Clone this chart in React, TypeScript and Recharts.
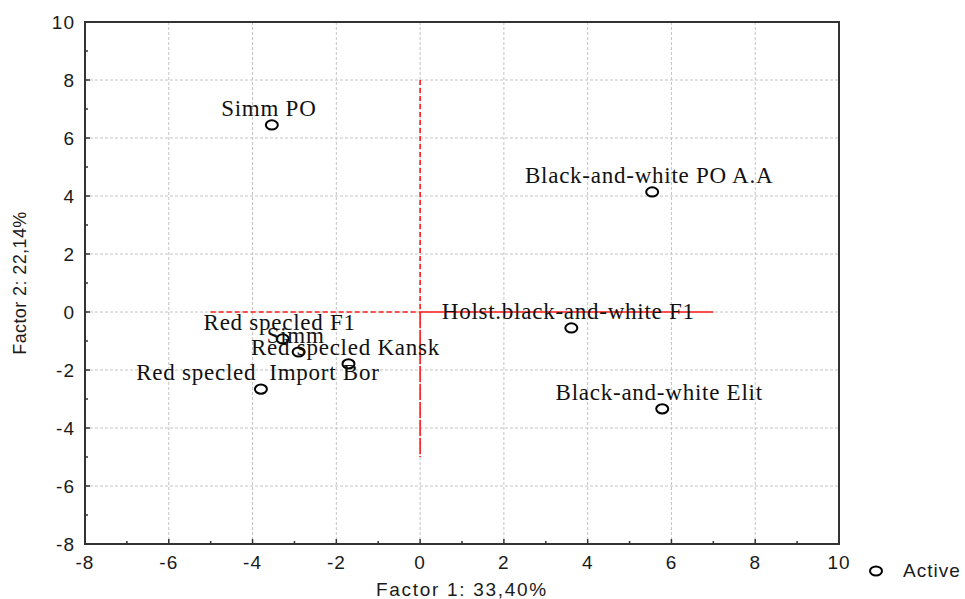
import {
  ScatterChart,
  Scatter,
  XAxis,
  YAxis,
  CartesianGrid,
  ReferenceLine,
  ReferenceArea,
  Legend,
  Label,
} from "recharts";

// Factor loadings
const NAMES = [
  "Simm PO",
  "Black-and-white PO A.A",
  "Holst.black-and-white F1",
  "Black-and-white Elit",
  "Red specled F1",
  "Simm",
  "Red specled Kansk",
  "Red specled  Import Bor",
];
const FACTOR1 = [-3.54, 5.54, 3.61, 5.78, -3.28, -2.9, -1.71, -3.8];
const FACTOR2 = [6.45, 4.14, -0.55, -3.34, -0.93, -1.38, -1.79, -2.66];

const AXIS_TICKS = [-8, -7, -6, -5, -4, -3, -2, -1, 0, 1, 2, 3, 4, 5, 6, 7, 8, 9, 10];
const GRID_VALUES = [-6, -4, -2, 0, 2, 4, 6, 8];

// red origin cross
const V_UPPER = [{ x: 0, y: 8 }, { x: 0, y: 0 }];
const V_LOWER = [{ x: 0, y: 0 }, { x: 0, y: -5 }];
const H_LEFT = [{ x: -5, y: 0 }, { x: 0, y: 0 }];
const H_RIGHT = [{ x: 0, y: 0 }, { x: 7, y: 0 }];

const points = NAMES.map((name, i) => ({ name, x: FACTOR1[i], y: FACTOR2[i] }));

const SANS = "'Liberation Sans', Arial, sans-serif";
const SERIF = "'Liberation Serif', 'Times New Roman', serif";
const TICK_MARGIN_X = 12;
const TICK_MARGIN_Y = 10;

const XTick = (props: any) => {
  const { x, y, payload } = props;
  const v = payload.value;
  const major = v % 2 === 0;
  const base = y - TICK_MARGIN_X;
  return (
    <g>
      <line x1={x} x2={x} y1={base} y2={base - (major ? 5 : 3)} stroke="#333" strokeWidth={1.5} />
      {major && (
        <text
          x={x}
          y={y}
          dy="0.71em"
          textAnchor="middle"
          fontSize={19}
          letterSpacing={1}
          fontFamily={SANS}
          fill="#1a1a1a"
        >
          {v}
        </text>
      )}
    </g>
  );
};

const YTick = (props: any) => {
  const { x, y, payload } = props;
  const v = payload.value;
  const major = v % 2 === 0;
  const base = x + TICK_MARGIN_Y;
  return (
    <g>
      <line x1={base} x2={base + (major ? 5 : 3)} y1={y} y2={y} stroke="#333" strokeWidth={1.5} />
      {major && (
        <text
          x={x}
          y={y}
          dy="0.355em"
          textAnchor="end"
          fontSize={19}
          letterSpacing={1}
          fontFamily={SANS}
          fill="#1a1a1a"
        >
          {v}
        </text>
      )}
    </g>
  );
};

const PointShape = (props: any) => {
  const { cx, cy, payload } = props;
  return (
    <g>
      <text
        x={cx - 3}
        y={cy - 9}
        textAnchor="middle"
        fontSize={23}
        letterSpacing={0.75}
        fontFamily={SERIF}
        fill="#111"
        style={{ whiteSpace: "pre" }}
      >
        {payload.name}
      </text>
      <ellipse cx={cx} cy={cy} rx={6} ry={4.6} fill="none" stroke="#000" strokeWidth={2} />
    </g>
  );
};

const LegendContent = () => (
  <div
    style={{
      display: "flex",
      alignItems: "center",
      fontFamily: SANS,
      fontSize: 19,
      letterSpacing: 1,
      color: "#1a1a1a",
    }}
  >
    <svg width={20} height={14}>
      <ellipse cx={10} cy={7} rx={6} ry={4.6} fill="none" stroke="#000" strokeWidth={2} />
    </svg>
    <span style={{ marginLeft: 17 }}>Active</span>
  </div>
);

export default function App() {
  return (
    <div style={{ position: "absolute", left: 0, top: 0, background: "#fff" }}>
      <ScatterChart width={965} height={599} margin={{ top: 22, right: 126, bottom: 0, left: 0 }}>
        <CartesianGrid
          stroke="#c4c4c4"
          strokeDasharray="3 2"
          horizontalValues={GRID_VALUES}
          verticalValues={GRID_VALUES}
        />
        <XAxis
          type="number"
          dataKey="x"
          domain={[-8, 10]}
          ticks={AXIS_TICKS}
          interval={0}
          height={55}
          tickSize={0}
          tickMargin={TICK_MARGIN_X}
          tickLine={false}
          axisLine={false}
          tick={<XTick />}
        >
          <Label
            value="Factor 1: 33,40%"
            position="insideBottom"
            offset={3}
            style={{ fontFamily: SANS, fontSize: 19, letterSpacing: 1.7, fill: "#1a1a1a" }}
          />
        </XAxis>
        <YAxis
          type="number"
          dataKey="y"
          domain={[-8, 10]}
          ticks={AXIS_TICKS}
          interval={0}
          width={85}
          tickSize={0}
          tickMargin={TICK_MARGIN_Y}
          tickLine={false}
          axisLine={false}
          tick={<YTick />}
        >
          <Label
            value="Factor 2: 22,14%"
            angle={-90}
            position="insideLeft"
            offset={20}
            style={{ fontFamily: SANS, fontSize: 18, letterSpacing: 0.4, fill: "#1a1a1a", textAnchor: "middle" }}
          />
        </YAxis>
        <ReferenceLine segment={V_UPPER} stroke="#ff1a1a" strokeWidth={1.6} strokeDasharray="5 3" />
        <ReferenceLine segment={V_LOWER} stroke="#ff1a1a" strokeWidth={1.6} strokeDasharray="16 2" />
        <ReferenceLine segment={H_LEFT} stroke="#ff1a1a" strokeWidth={1.6} strokeDasharray="5 3" />
        <ReferenceLine segment={H_RIGHT} stroke="#ff1a1a" strokeWidth={1.6} />
        <ReferenceArea x1={-8} x2={10} y1={-8} y2={10} fill="none" stroke="#333" strokeWidth={2} />
        <Legend
          layout="vertical"
          align="center"
          verticalAlign="middle"
          content={<LegendContent />}
          wrapperStyle={{ left: 866, top: 560, width: 99 }}
        />
        <Scatter data={points} shape={<PointShape />} isAnimationActive={false} legendType="circle" />
      </ScatterChart>
    </div>
  );
}
